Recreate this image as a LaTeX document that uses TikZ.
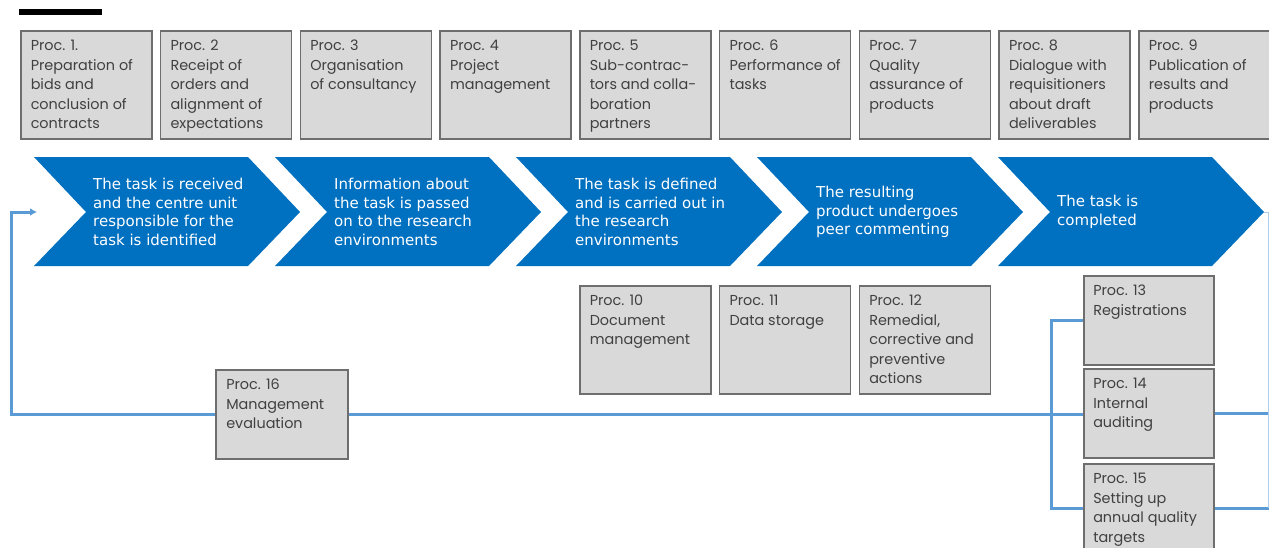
\documentclass[tikz,border=0pt]{standalone}
\usepackage{fontspec}
\usetikzlibrary{arrows.meta}
\newfontfamily\boxfont{Poppins}
\newfontfamily\chevfont{DejaVu Sans}
\definecolor{chevblue}{RGB}{0,112,192}
\definecolor{lineblue}{RGB}{91,155,213}
\definecolor{boxfill}{RGB}{217,217,217}
\definecolor{boxline}{RGB}{110,110,110}
\definecolor{boxtext}{RGB}{64,64,64}
\newcommand\plines[2]{\parbox[c][#1][t]{111pt}{\begin{tabular}[t]{@{}l@{}}#2\end{tabular}}}
\tikzset{
  proc/.style={rectangle, draw=boxline, fill=boxfill, line width=1.5pt,
    anchor=north west, inner xsep=10pt, inner ysep=6.3pt, text=boxtext,
    font=\boxfont\fontsize{14.4}{19.5}\selectfont},
  chev/.style={fill=chevblue},
  chevtext/.style={anchor=west, align=left, text=white, inner sep=0pt,
    font=\chevfont\fontsize{15}{18.5}\selectfont},
  flow/.style={draw=lineblue, line width=3pt},
}
\begin{document}
\begin{tikzpicture}[x=1pt,y=-1pt]
\useasboundingbox (0,0) rectangle (1269,547);
\clip (0,0) rectangle (1269,547);
% black bar
\fill[black] (19,9) rectangle (102,15);
% top boxes
\node[proc] (p1) at (20,30) {\plines{95.4pt}{Proc. 1.\\Preparation of\\bids and\\conclusion of\\contracts}};
\node[proc] (p2) at (159.75,30) {\plines{95.4pt}{Proc. 2\\Receipt of\\orders and\\alignment of\\expectations}};
\node[proc] (p3) at (299.5,30) {\plines{95.4pt}{Proc. 3\\Organisation\\of consultancy}};
\node[proc] (p4) at (439.25,30) {\plines{95.4pt}{Proc. 4\\Project\\management}};
\node[proc] (p5) at (579,30) {\plines{95.4pt}{Proc. 5\\Sub-contrac-\\tors and colla-\\boration\\partners}};
\node[proc] (p6) at (718.75,30) {\plines{95.4pt}{Proc. 6\\Performance of\\tasks}};
\node[proc] (p7) at (858.5,30) {\plines{95.4pt}{Proc. 7\\Quality\\assurance of\\products}};
\node[proc] (p8) at (998.25,30) {\plines{95.4pt}{Proc. 8\\Dialogue with\\requisitioners\\about draft\\deliverables}};
\node[proc] (p9) at (1138,30) {\plines{95.4pt}{Proc. 9\\Publication of\\results and\\products}};
% chevrons
\foreach \L in {34,275,516,757,998}{
  \fill[chev] (\L,157) -- (\L+214,157) -- (\L+266,212) -- (\L+214,266) -- (\L,266) -- (\L+52,212) -- cycle;
}
\node[chevtext] (c1) at (93,212) {The task is received\\and the centre unit\\responsible for the\\task is identified};
\node[chevtext] (c2) at (334,212) {Information about\\the task is passed\\on to the research\\environments};
\node[chevtext] (c3) at (575,212) {The task is defined\\and is carried out in\\the research\\environments};
\node[chevtext] (c4) at (816,212) {The resulting\\product undergoes\\peer commenting};
\node[chevtext] (c5) at (1057,212) {The task is\\completed};
% bottom boxes
\node[proc] (p10) at (579,285) {\plines{95.4pt}{Proc. 10\\Document\\management}};
\node[proc] (p11) at (718.75,285) {\plines{95.4pt}{Proc. 11\\Data storage}};
\node[proc] (p12) at (858.5,285) {\plines{95.4pt}{Proc. 12\\Remedial,\\corrective and\\preventive\\actions}};
\node[proc, inner xsep=9.5pt] (p13) at (1083,275) {\plines{76.4pt}{Proc. 13\\Registrations}};
\node[proc, inner xsep=9.5pt] (p14) at (1083,368) {\plines{76.4pt}{Proc. 14\\Internal\\auditing}};
\node[proc, inner xsep=9.5pt] (p15) at (1083,463) {\plines{76.4pt}{Proc. 15\\Setting up\\annual quality\\targets}};
\node[proc, inner xsep=10.5pt] (p16) at (215,369) {\plines{76.4pt}{Proc. 16\\Management\\evaluation}};
% connectors
\coordinate (loopcorner) at (11,212);
\coordinate (c1in) at (37,212);
\coordinate (jx) at (1051,413);
\coordinate (rightedge) at (1269,212);
\coordinate (tip5) at (1264,212);
\coordinate (edgetop) at (1268,212);
\draw[flow, -{Latex[length=7pt,width=8pt]}] (p16.west) -| (loopcorner) -- (c1in);
\draw[flow] (p16.east) -- (p16.east -| p14.west);
\draw[flow] (p13.west) -| (jx) |- (p15.west);
\draw[flow] (p14.east) -- (p14.east -| rightedge);
\draw[flow] (p15.east) -- (p15.east -| rightedge);
\draw[draw=lineblue!50, line width=1pt] (tip5) -- (edgetop) -- (edgetop |- p15.east);
\end{tikzpicture}
\end{document}
